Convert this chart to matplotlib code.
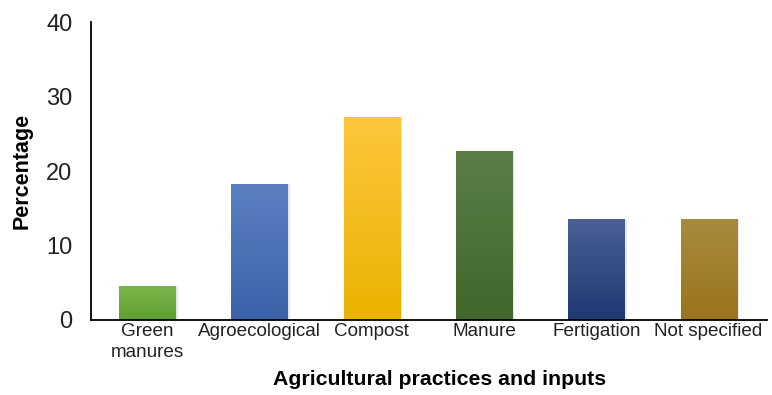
import numpy as np
import matplotlib
matplotlib.use("Agg")
import matplotlib.pyplot as plt
from matplotlib.colors import LinearSegmentedColormap

plt.rcParams['font.family'] = ['Liberation Sans', 'DejaVu Sans']

categories = ["Green\nmanures", "Agroecological", "Compost", "Manure", "Fertigation", "Not specified"]
percentages = [4.5, 18.2, 27.3, 22.7, 13.6, 13.6]
top_colors = ["#7bb74a", "#5b80c2", "#fec63d", "#5b7e47", "#4b6096", "#a88a40"]
bottom_colors = ["#5e9e31", "#3b62a9", "#eab300", "#3f682a", "#1e3a72", "#9a741c"]
yticks = [0, 10, 20, 30, 40]

fig = plt.figure(figsize=(7.72, 3.95), dpi=100)
ax = fig.add_axes([0.118, 0.19, 0.8755, 0.754])

x = np.arange(len(categories))
bars = ax.bar(x, percentages, width=0.5, color="none", edgecolor="none", zorder=2)

# vertical gradient fill inside each bar
grad = np.linspace(0, 1, 256).reshape(-1, 1)
for bar, c_top, c_bot in zip(bars, top_colors, bottom_colors):
    x0, y0 = bar.get_x(), bar.get_y()
    w, h = bar.get_width(), bar.get_height()
    cmap = LinearSegmentedColormap.from_list("g", [c_bot, c_top])
    # soft shadow to the right
    ax.bar(x0 + w / 2 + 0.02, h, width=w, color="#bbbbbb", alpha=0.35,
           edgecolor="none", zorder=1)
    im = ax.imshow(grad, extent=[x0, x0 + w, y0, y0 + h], origin="lower",
                   cmap=cmap, aspect="auto", zorder=2)
    im.set_clip_path(bar)

ax.set_xlim(-0.5, 5.52)
ax.set_ylim(0, 40)
ax.set_yticks(yticks)
ax.set_xticks(x)
ax.set_xticklabels(categories, fontsize=13.6, color="#222222", linespacing=1.3)
ax.tick_params(axis="y", length=0, pad=13.5, labelsize=17, labelcolor="#222222")
ax.tick_params(axis="x", length=0, pad=2)

for side in ["top", "right"]:
    ax.spines[side].set_visible(False)
ax.spines["left"].set_linewidth(1.3)
ax.spines["bottom"].set_linewidth(1.3)

ax.set_ylabel("Percentage", fontsize=15.5, fontweight="bold")
ax.set_xlabel("Agricultural practices and inputs", fontsize=15.3, fontweight="bold")
ax.xaxis.label.set_va("center")
ax.yaxis.set_label_coords(-0.086, 0.5)
ax.xaxis.set_label_coords(0.515, -0.2)

fig.savefig("out.png", dpi=100)
